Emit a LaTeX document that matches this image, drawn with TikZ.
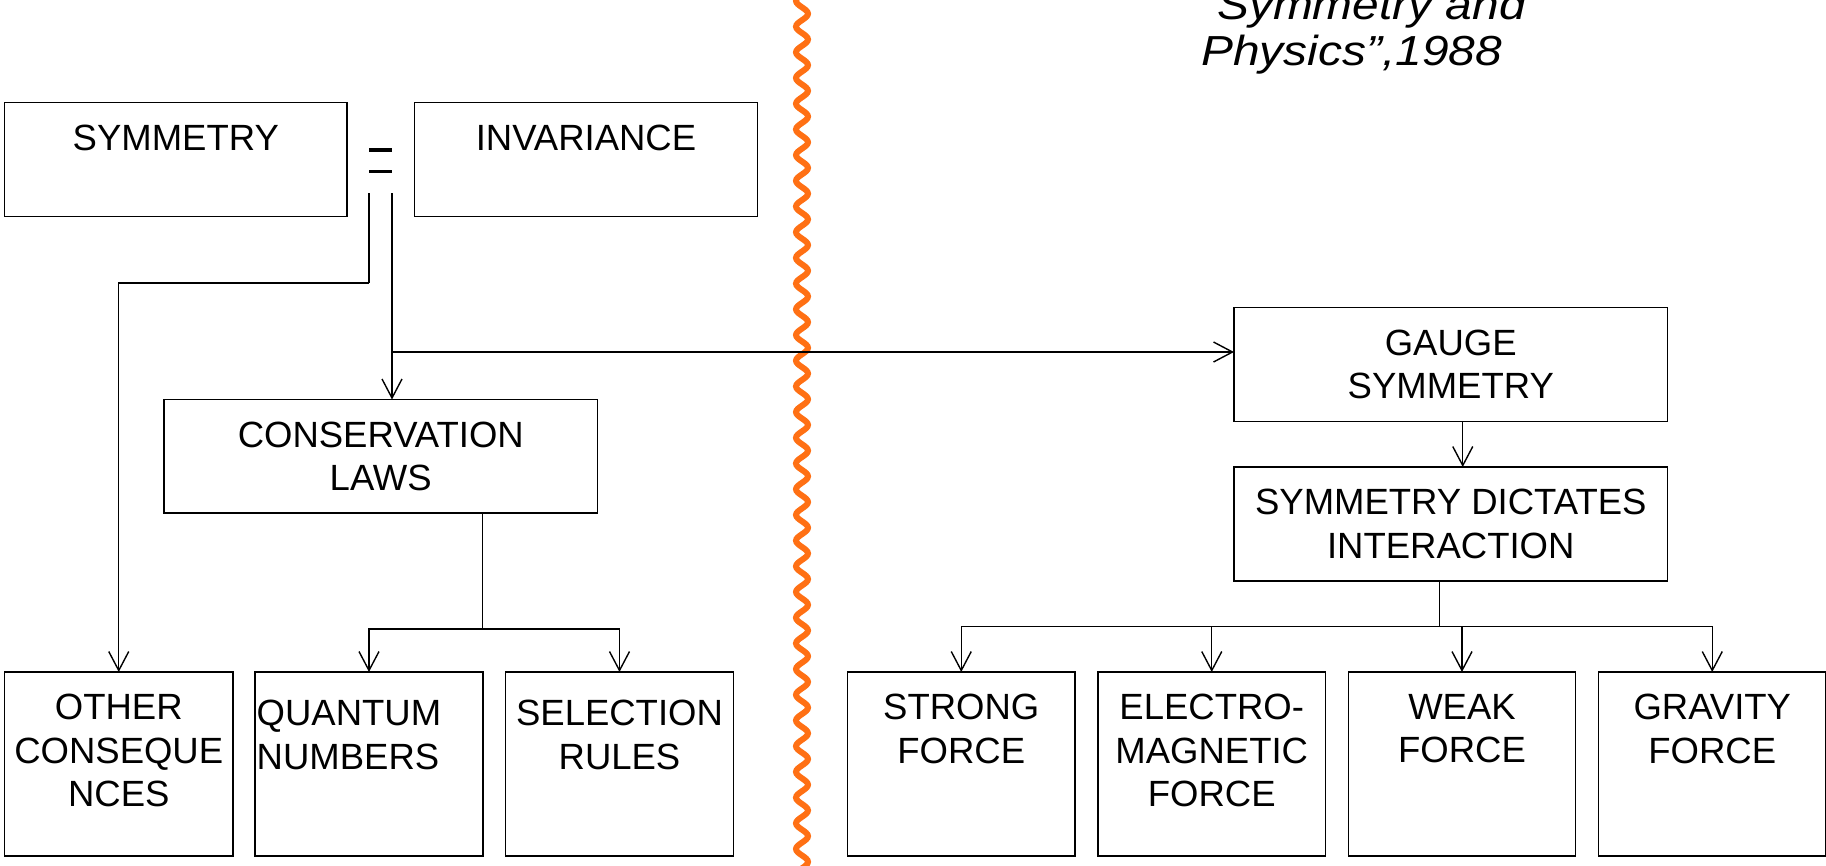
\documentclass[tikz,border=0pt]{standalone}
\usepackage{fontspec}
\setmainfont{Liberation Sans}
\newfontfamily\quotefont[FakeStretch=1.14]{Liberation Sans}
\usepackage{xcolor}
\usetikzlibrary{arrows.meta,decorations.pathmorphing}
\definecolor{wavecol}{RGB}{255,112,20}
\newcommand{\boxfont}{\fontsize{36.5}{43.5}\selectfont}
\newcommand{\labelbox}[7][]{
  \node[box, minimum width=#5, minimum height=#6] (#2) at (#3,#4) {};
  \node[boxtext, #1] (#2-text) at ([yshift=-22pt]#2.north) {#7};
}
\tikzset{
  box/.style={draw, line width=1.8pt, inner sep=0pt, outer sep=0pt, anchor=north west},
  boxtext/.style={anchor=north, align=center, inner sep=0pt, font=\boxfont},
  link/.style={line width=1.4pt},
  arr/.style={link, -{Straight Barb[length=19pt, width=20pt]}},
  wave/.style={draw=wavecol, line width=6pt, decorate,
    decoration={snake, segment length=25.7pt, amplitude=6pt}},
  eqbar/.style={line width=3.8pt},
  quote/.style={anchor=base west, align=left, inner sep=0pt,
    font=\quotefont\itshape\fontsize{42}{45.5}\selectfont},
}
\begin{document}
\begin{tikzpicture}[x=1pt,y=-1pt]
\useasboundingbox (0,0) rectangle (1826,865);
\draw[wave] (802,-20) -- (802,885);
\node[quote] (citation) at (1201,65) {“Symmetry and\\Physics”,1988};
\labelbox{sym}{4.5}{102.5}{342.5}{114}{SYMMETRY}
\labelbox{inv}{414.5}{102.5}{343}{114}{INVARIANCE}
\draw[eqbar] (369,150) -- (392,150);
\draw[eqbar] (369,171.5) -- (392,171.5);
\labelbox{cons}{164}{399.5}{433.5}{113.5}{CONSERVATION\\LAWS}
\labelbox{gauge}{1234}{307.5}{433.5}{114}{GAUGE\\SYMMETRY}
\labelbox{dict}{1234}{467}{433.5}{114}{SYMMETRY DICTATES\\INTERACTION}
\labelbox{other}{4.5}{672}{228.5}{184}{OTHER\\CONSEQUE\\NCES}
\labelbox[align=left, xshift=-20pt, yshift=-6pt]{quantum}{255}{672}{228}{184}{QUANTUM\\NUMBERS}
\labelbox[yshift=-6pt]{selection}{505.5}{672}{228}{184}{SELECTION\\RULES}
\labelbox{strong}{847.5}{672}{227.5}{184}{STRONG\\FORCE}
\labelbox{electro}{1098}{672}{227.5}{184}{ELECTRO-\\MAGNETIC\\FORCE}
\labelbox{weak}{1348.5}{672}{227}{184}{WEAK\\FORCE}
\labelbox{gravity}{1598.5}{672}{227.5}{184}{GRAVITY\\FORCE}
\coordinate (eqL) at (369,193);
\coordinate (eqR) at (392,193);
\coordinate (bend) at (369,283);
\coordinate (branch) at (392,352);
\coordinate (cout) at ([xshift=102pt]cons.south);
\coordinate (cjoin) at (482.75,629);
\coordinate (gout) at ([xshift=12pt]gauge.south);
\coordinate (dout) at ([xshift=-11.5pt]dict.south);
\coordinate (djoin) at (1439.25,626.5);
\draw[link] (eqL) -- (bend);
\draw[arr] (bend) -| (other.north);
\draw[arr] (eqR) -- (eqR |- cons.north);
\draw[arr] (branch) -- (branch -| gauge.west);
\draw[arr] (gout) -- (gout |- dict.north);
\draw[link] (cout) -- (cjoin);
\foreach \n in {quantum,selection}
  \draw[arr] (cjoin) -| (\n.north);
\draw[link] (dout) -- (djoin);
\foreach \n in {strong,electro,weak,gravity}
  \draw[arr] (djoin) -| (\n.north);
\end{tikzpicture}
\end{document}
